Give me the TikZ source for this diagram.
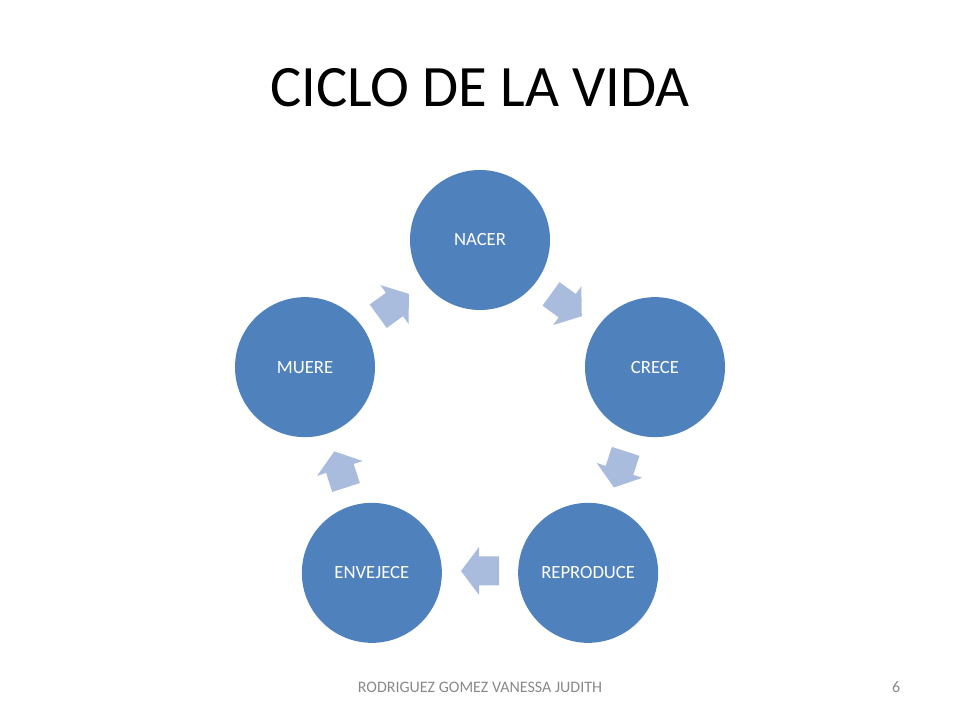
\documentclass[tikz,border=0pt]{standalone}
\usepackage{fontspec}
\setmainfont{Carlito}
\usetikzlibrary{calc}
\definecolor{circblue}{RGB}{79,129,189}
\definecolor{arrblue}{RGB}{170,188,221}
\definecolor{footgray}{RGB}{137,137,137}
\tikzset{
  stage/.style={circle, fill=circblue, minimum size=105pt, inner sep=0pt,
    text=white, font=\fontsize{14}{16}\selectfont},
  blockarrow/.style={fill=arrblue, draw=none},
}
\begin{document}
\begin{tikzpicture}[x=0.75pt,y=0.75pt]
\useasboundingbox (0,0) rectangle (960,720);
\node[anchor=base, font=\fontsize{44}{50}\selectfont] (title) at (480,613) {CICLO DE LA VIDA};
\coordinate (ctr) at (480,296);
\node[stage] (nacer) at ($(ctr)+(90:184)$) {NACER};
\node[stage] (crece) at ($(ctr)+(18:184)$) {CRECE};
\node[stage] (repro) at ($(ctr)+(-54:184)$) {REPRODUCE};
\node[stage] (envej) at ($(ctr)+(-126:184)$) {ENVEJECE};
\node[stage] (muere) at ($(ctr)+(162:184)$) {MUERE};
\foreach \a in {54,-18,-90,-162,126}{
  \begin{scope}[shift={($(ctr)+(\a:147)$)}, rotate=\a-90]
    \fill[blockarrow] (-19,-14.5) -- (1,-14.5) -- (1,-24) -- (19,0) -- (1,24) -- (1,14.5) -- (-19,14.5) -- cycle;
  \end{scope}
}
\node[anchor=base, text=footgray, font=\fontsize{12}{14}\selectfont] (foot) at (480,27) {RODRIGUEZ GOMEZ VANESSA JUDITH};
\node[anchor=base east, text=footgray, font=\fontsize{12}{14}\selectfont] (page) at (905,27) {6};
\end{tikzpicture}
\end{document}
